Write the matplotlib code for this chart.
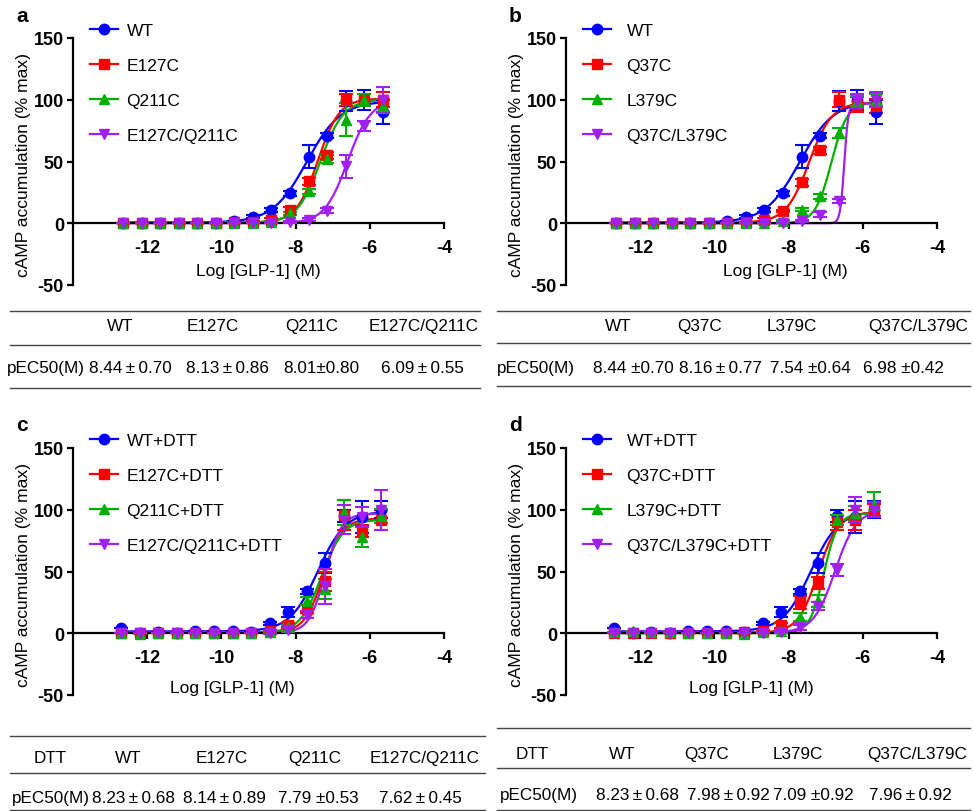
import numpy as np
import matplotlib.pyplot as plt
from matplotlib.lines import Line2D

plt.rcParams['font.family'] = ['Liberation Sans', 'DejaVu Sans']
plt.rcParams['axes.unicode_minus'] = False

# log[GLP-1] concentrations
x_ab = [-12.65, -12.15, -11.65, -11.15, -10.65, -10.15, -9.65, -9.15,
        -8.65, -8.15, -7.65, -7.15, -6.65, -6.15, -5.65]
x_cd = [-12.7, -12.2, -11.7, -11.2, -10.7, -10.2, -9.7, -9.2,
        -8.7, -8.2, -7.7, -7.2, -6.7, -6.2, -5.7]

# panel a
a_labels = ['WT', 'E127C', 'Q211C', 'E127C/Q211C']
a_wt = [0, 0, 0, 0, 0, 0.5, 1.6, 5.4, 10.5, 24.3, 54, 71, 99, 100, 90]
a_wt_err = [0, 0, 0, 0, 0, 0, 0, 1, 1.5, 2, 9, 2, 8, 8, 10]
a_e127c = [0, 0, 0, 0, 0, 0.5, 1, 1, 3, 11, 34, 55, 100, 100, 100]
a_e127c_err = [0, 0, 0, 0, 0, 0, 0, 0.5, 1, 2, 3, 3, 5, 5, 6]
a_q211c = [0, 0, 0, 0, 0, 0, 0.5, 0.5, 1, 8, 26, 52, 84, 100, 95]
a_q211c_err = [0, 0, 0, 0, 0, 0, 0, 0, 0.5, 1, 2, 3, 13, 5, 6]
a_dm = [0, 0, 0, 0, 0, 0, 0, 0, 0.5, 1, 3, 10, 46, 79, 100]
a_dm_err = [0, 0, 0, 0, 0, 0, 0, 0, 0, 0.5, 1, 2, 9, 4, 10]
# fit parameters: bottom, top, logEC50, hill slope
a_fits = [(0.5, 99, -7.7, 0.95), (0.5, 101, -7.4, 1.5),
          (0.5, 100, -7.33, 1.4), (0, 100, -6.6, 1.4)]

# panel b
b_labels = ['WT', 'Q37C', 'L379C', 'Q37C/L379C']
b_wt = a_wt
b_wt_err = a_wt_err
b_q37c = [0, 0, 0, 0, 0, 0, 0.5, 1, 3, 10, 33, 59, 100, 96, 95]
b_q37c_err = [0, 0, 0, 0, 0, 0, 0, 0, 1, 1, 3, 3, 6, 6, 6]
b_l379c = [0, 0, 0, 0, 0, 0, 0, 0, 0.5, 2, 11, 22, 73, 99, 100]
b_l379c_err = [0, 0, 0, 0, 0, 0, 0, 0, 0, 1, 1, 2, 4, 4, 5]
b_dm = [0, 0, 0, 0, 0, 0, 0, 0, 0, 0.5, 2, 7, 18, 99, 100]
b_dm_err = [0, 0, 0, 0, 0, 0, 0, 0, 0, 0, 1, 2, 2, 6, 6]
b_fits = [(0.5, 99, -7.7, 0.95), (0.5, 98, -7.45, 1.4),
          (0, 98, -6.85, 2.0), (0, 97, -6.5, 8)]

# panel c
c_labels = ['WT+DTT', 'E127C+DTT', 'Q211C+DTT', 'E127C/Q211C+DTT']
c_wt = [4, 0.5, 1, 0, 2, 1.6, 1.6, 1.4, 8, 17, 34, 57, 95, 94, 100]
c_wt_err = [0, 0, 0, 0, 0, 0, 0, 0, 1, 4, 2, 8, 5, 13, 7]
c_e127c = [0.5, 0, 0.5, 0, 0, 0, 0, 0, 2, 6.5, 19.5, 42, 96, 83, 92]
c_e127c_err = [0, 0, 0, 0, 0, 0, 0, 0, 1, 2, 3, 8, 12, 5, 8]
c_q211c = [0, -1, 0, 0, 0, 0, 0, 0, 1, 5, 26, 36, 98, 78, 95]
c_q211c_err = [0, 0, 0, 0, 0, 0, 0, 0, 1, 2, 3, 8, 10, 8, 6]
c_dm = [0, 0, 0, 0, 0, 0, 0, 0, 0.5, 3, 15, 38, 92, 94, 100]
c_dm_err = [0, 0, 0, 0, 0, 0, 0, 0, 1, 2, 3, 14, 12, 8, 16]
c_fits = [(1.5, 99, -7.4, 1.15), (0.5, 93, -7.25, 1.7),
          (0.5, 92, -7.3, 1.5), (0.5, 97, -7.2, 2.0)]

# panel d
d_labels = ['WT+DTT', 'Q37C+DTT', 'L379C+DTT', 'Q37C/L379C+DTT']
d_wt = c_wt
d_wt_err = c_wt_err
d_q37c = [0, 0.5, 0, 0, 0, 0, 0, 1, 2, 6.5, 25, 40.5, 90, 92, 100]
d_q37c_err = [0, 0, 0, 0, 0, 0, 0, 0, 1, 2, 5, 5, 6, 8, 5]
d_l379c = [1, 2, 1, 1, 0.5, 0.5, 0, -1, 1, 2, 13, 26, 92, 97, 104]
d_l379c_err = [0, 0, 0, 0, 0, 0, 0, 0, 0, 1, 3, 5, 4, 6, 10]
d_dm = [0, 0, 0, 0, 0, 0, 0, 0, 0.5, 1, 5, 22, 51, 100, 100]
d_dm_err = [0, 0, 0, 0, 0, 0, 0, 0, 0, 1, 2, 3, 5, 10, 6]
d_fits = [(1.5, 99, -7.4, 1.15), (0.5, 98, -7.2, 1.6),
          (0, 97, -7.05, 2.3), (0.5, 100, -6.75, 1.5)]

# pEC50 tables (thin spaces around the +/- sign)
T = '\u2009'
tab_a_head = ['WT', 'E127C', 'Q211C', 'E127C/Q211C']
tab_a_vals = [f'8.44{T}\u00b1{T}0.70', f'8.13{T}\u00b1{T}0.86', '8.01\u00b10.80', f'6.09{T}\u00b1{T}0.55']
tab_b_head = ['WT', 'Q37C', 'L379C', 'Q37C/L379C']
tab_b_vals = ['8.44 \u00b10.70', f'8.16{T}\u00b1{T}0.77', '7.54 \u00b10.64', '6.98 \u00b10.42']
tab_c_head = ['DTT', 'WT', 'E127C', 'Q211C', 'E127C/Q211C']
tab_c_vals = [f'8.23{T}\u00b1{T}0.68', f'8.14{T}\u00b1{T}0.89', '7.79 \u00b10.53', f'7.62{T}\u00b1{T}0.45']
tab_d_head = ['DTT', 'WT', 'Q37C', 'L379C', 'Q37C/L379C']
tab_d_vals = [f'8.23{T}\u00b1{T}0.68', f'7.98{T}\u00b1{T}0.92', '7.09 \u00b10.92', f'7.96{T}\u00b1{T}0.92']

colors = ['#0000FF', '#FF0000', '#00B000', '#A020F0']
markers = ['o', 's', '^', 'v']

W, H = 973, 812
fig = plt.figure(figsize=(W / 100, H / 100), dpi=100)


def fx(px):
    return px / W


def fy(py):
    return 1 - py / H


def hill(x, p):
    bottom, top, ec50, slope = p
    return bottom + (top - bottom) / (1 + 10 ** ((ec50 - x) * slope))


def panel(left_px, top_px, letter, x, series, fits, labels, xlab_pos, text_pad):
    ax = fig.add_axes([fx(left_px), fy(top_px + 247), 371 / W, 247 / H])
    xs = np.array(x)
    xf = np.linspace(xs[0], xs[-1], 300)
    handles = []
    for i in [3, 2, 1, 0]:
        y, e = series[i]
        ax.plot(xf, hill(xf, fits[i]), color=colors[i], lw=1.6, zorder=2 + i * 0.1)
        ax.errorbar(xs, y, yerr=e, fmt=markers[i], color=colors[i], ms=7.5,
                    elinewidth=1.5, capsize=5, capthick=1.5, zorder=3 + i * 0.1,
                    clip_on=False)
    for i in range(4):
        handles.append(Line2D([], [], color=colors[i], marker=markers[i],
                              ms=7.5, lw=1.6))
    ax.set_xlim(-14, -4)
    ax.set_ylim(-50, 150)
    ax.set_xticks([-12, -10, -8, -6, -4])
    ax.set_yticks([-50, 0, 50, 100, 150])
    ax.spines['top'].set_visible(False)
    ax.spines['right'].set_visible(False)
    ax.spines['bottom'].set_position(('data', 0))
    for s in ['left', 'bottom']:
        ax.spines[s].set_linewidth(1.6)
    ax.tick_params(width=1.6, length=4.5, labelsize=13)
    ax.tick_params(axis='x', pad=6.5)
    ax.tick_params(axis='y', pad=2)
    for lab in ax.get_xticklabels() + ax.get_yticklabels():
        lab.set_fontweight('bold')
    ax.set_ylabel('cAMP accumulation (% max)', fontsize=12.6)
    ax.yaxis.set_label_coords(-42 / 371, 0.49)
    ax.text(xlab_pos[0], xlab_pos[1], 'Log [GLP-1] (M)', transform=ax.transAxes,
            ha='center', va='center', fontsize=12.5)
    ax.legend(handles, labels, loc='upper left', bbox_to_anchor=(0.046, 1.063),
              frameon=False, fontsize=12.5, handlelength=1.6, labelspacing=1.15,
              handletextpad=text_pad, borderpad=0, borderaxespad=0)
    fig.text(fx(left_px - 51), fy(top_px - 23), letter, fontsize=15,
             fontweight='bold', ha='center', va='center')
    return ax


panel(73, 39, 'a', x_ab,
      [(a_wt, a_wt_err), (a_e127c, a_e127c_err), (a_q211c, a_q211c_err), (a_dm, a_dm_err)],
      a_fits, a_labels, (0.5, 0.057), 0.5)
panel(566, 39, 'b', x_ab,
      [(b_wt, b_wt_err), (b_q37c, b_q37c_err), (b_l379c, b_l379c_err), (b_dm, b_dm_err)],
      b_fits, b_labels, (0.59, 0.057), 0.9)
panel(73, 449, 'c', x_cd,
      [(c_wt, c_wt_err), (c_e127c, c_e127c_err), (c_q211c, c_q211c_err), (c_dm, c_dm_err)],
      c_fits, c_labels, (0.43, 0.032), 0.5)
panel(566, 449, 'd', x_cd,
      [(d_wt, d_wt_err), (d_q37c, d_q37c_err), (d_l379c, d_l379c_err), (d_dm, d_dm_err)],
      d_fits, d_labels, (0.5, 0.032), 0.9)


def hline(x0, x1, y):
    fig.add_artist(Line2D([fx(x0), fx(x1)], [fy(y), fy(y)], color='#444444', lw=1.0))


def table(head, head_x, vals, val_x, label_x, lines_y, x0, x1, head_y, val_y):
    for yy in lines_y:
        hline(x0, x1, yy)
    for t, px in zip(head, head_x):
        fig.text(fx(px), fy(head_y), t, ha='center', va='center', fontsize=12.3)
    fig.text(fx(label_x), fy(val_y), 'pEC50(M)', ha='left', va='center', fontsize=12.3)
    for t, px in zip(vals, val_x):
        fig.text(fx(px), fy(val_y), t, ha='center', va='center', fontsize=12.3)


table(tab_a_head, [120, 213, 312, 424], tab_a_vals, [130, 228, 321, 422], 7,
      [312, 346, 389], 10, 480, 327, 369)
table(tab_b_head, [618, 700, 792, 918], tab_b_vals, [633, 720, 810, 903], 497,
      [312, 344, 387], 497, 970, 327, 369)
table(tab_c_head, [50, 128, 222, 315, 425], tab_c_vals, [133, 224, 318, 420], 12,
      [737, 774, 811], 10, 485, 759, 799)
table(tab_d_head, [532, 622, 707, 798, 917], tab_d_vals, [637, 728, 813, 910], 500,
      [729, 769, 811], 497, 970, 755, 796)

fig.savefig('out.png', dpi=100)
